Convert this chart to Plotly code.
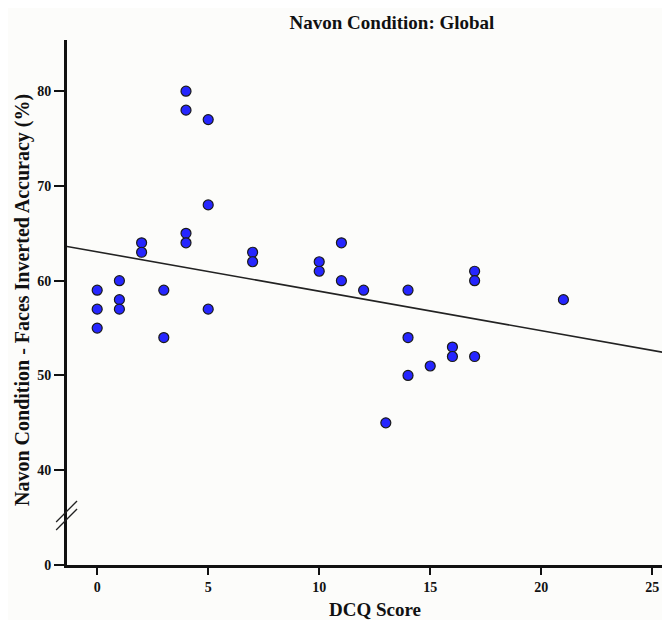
import numpy as np
import plotly.graph_objects as go

dcq = [0, 0, 0, 1, 1, 1, 2, 2, 3, 3, 4, 4, 4, 4, 5, 5, 5, 7, 7, 10, 10, 11, 11, 12, 13,
       14, 14, 14, 15, 16, 16, 17, 17, 17, 21]
acc = [59, 57, 55, 60, 58, 57, 64, 63, 59, 54, 80, 78, 65, 64, 77, 68, 57, 63, 62, 62, 61, 64, 60, 59, 45,
       59, 54, 50, 51, 53, 52, 61, 60, 52, 58]
# fit line
fit_intercept = 63.05
fit_slope = -0.416
y_tickvals = [30, 40, 50, 60, 70, 80]
y_ticktext = ["0", "40", "50", "60", "70", "80"]
x_tickvals = [0, 5, 10, 15, 20, 25]

XR = [-1.36, 25.8]
YR = [30, 85.4]

lx = np.array(XR)
ly = fit_intercept + fit_slope * lx

bg = "#fcfcfa"
font = "Liberation Serif, Times New Roman, serif"

fig = go.Figure()
fig.add_trace(go.Scatter(x=lx, y=ly, mode="lines",
                         line=dict(color="#222222", width=1.6), hoverinfo="skip"))
fig.add_trace(go.Scatter(x=dcq, y=acc, mode="markers",
                         marker=dict(size=10, color="#2626ff",
                                     line=dict(color="#1a1a1a", width=1.2))))

fig.update_layout(
    width=662, height=612,
    margin=dict(l=59, r=0, t=32, b=55),
    paper_bgcolor=bg, plot_bgcolor=bg,
    showlegend=False,
    font=dict(family=font, color="#111111"),
    title=dict(text="<b>Navon Condition: Global</b>", x=384/662, xanchor="center",
               y=1 - 14/612, yanchor="middle", font=dict(size=19, family=font)),
    xaxis=dict(range=XR, tickvals=x_tickvals, ticks="outside", ticklen=7, tickwidth=2,
               tickcolor="#111111", showline=True, linecolor="#111111", linewidth=3,
               showgrid=False, zeroline=False,
               tickfont=dict(size=14, family=font, weight="bold")),
    yaxis=dict(range=YR, tickvals=y_tickvals, ticktext=y_ticktext, ticks="outside", ticklen=10,
               tickwidth=2, tickcolor="#111111", showline=True, linecolor="#111111", linewidth=3,
               showgrid=False, zeroline=False,
               tickfont=dict(size=14, family=font, weight="bold")),
)

fig.add_annotation(text="<b>DCQ Score</b>", xref="paper", yref="paper",
                   x=(367 - 59) / 603, y=(557 - 601) / 525, showarrow=False,
                   xanchor="center", yanchor="middle", font=dict(size=19, family=font))
fig.add_annotation(text="<b>Navon Condition - Faces Inverted Accuracy (%)</b>", xref="paper", yref="paper",
                   x=(14 - 59) / 603, y=(557 - 292) / 525, showarrow=False, textangle=-90,
                   xanchor="center", yanchor="middle", font=dict(size=20, family=font))

# axis break marks
for (x0, y0, x1, y1) in [(-0.018, 0.0819, 0.0166, 0.1219), (-0.018, 0.0667, 0.0166, 0.1067)]:
    fig.add_shape(type="line", xref="paper", yref="paper", x0=x0, y0=y0, x1=x1, y1=y1,
                  line=dict(color="#222222", width=1.3))

fig.write_html("out.html")
